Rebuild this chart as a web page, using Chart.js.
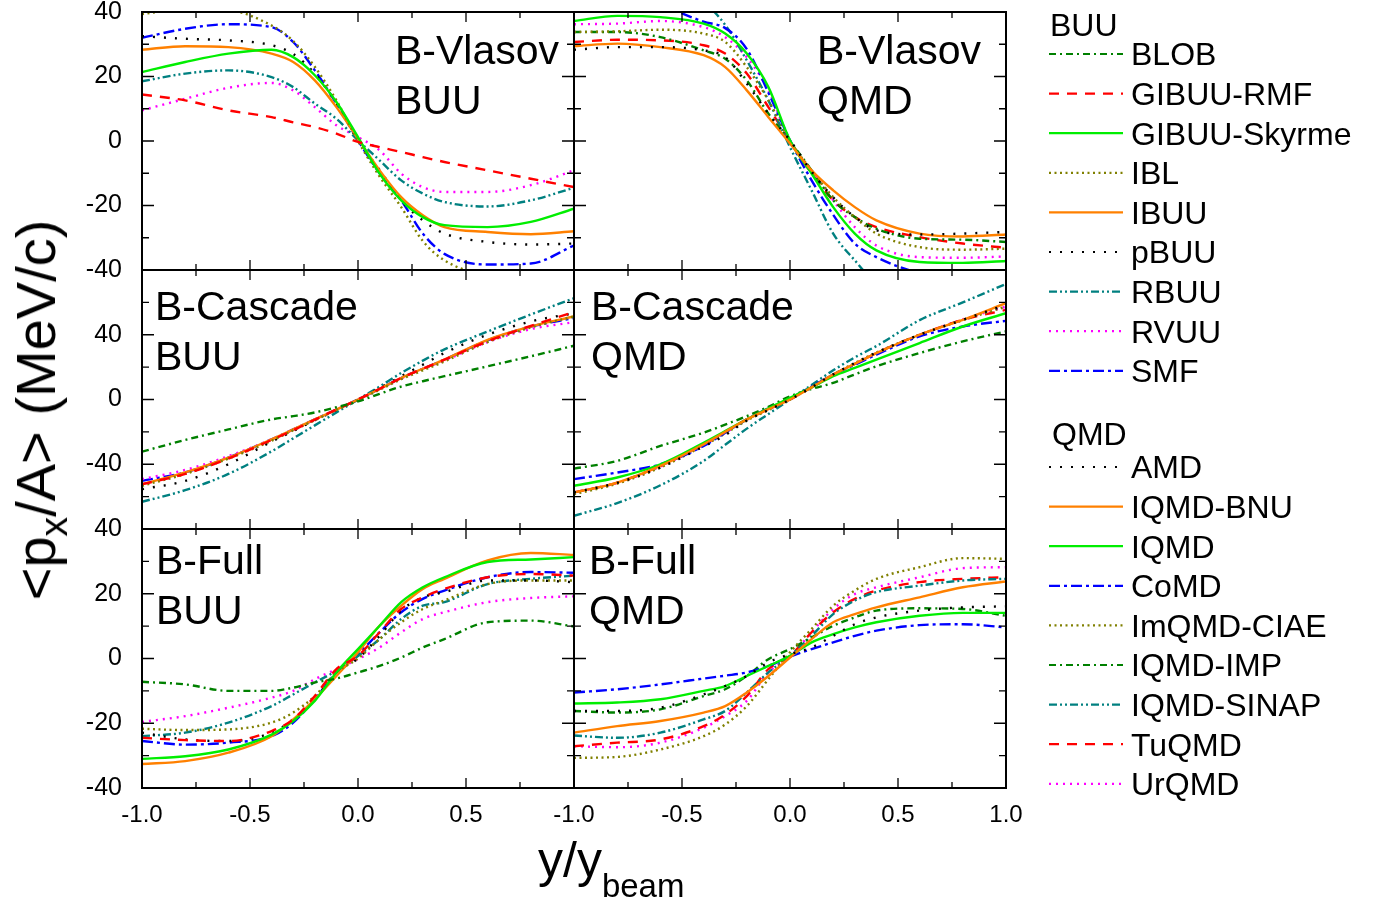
<!DOCTYPE html>
<html>
<head>
<meta charset="utf-8">
<title>&lt;px/A&gt; vs y/ybeam</title>
<script src="https://cdn.jsdelivr.net/npm/chart.js@4.4.1/dist/chart.umd.min.js"></script>
<style>
  body { margin: 0; background: #fff; font-family: "Liberation Sans", Arial, sans-serif; }
  #page { position: relative; width: 1385px; height: 903px; overflow: hidden; }
  #page canvas { position: absolute; }
  .txt { position: absolute; white-space: nowrap; color: #000; line-height: 1; }
  .panel-label { font-size: 41px; line-height: 50px; }
  .legend-text { font-size: 32px; }
</style>
</head>
<body>
<div id="page"></div>
<script>
// x grid (y/ybeam) shared by every curve
const xs = [-1, -0.8, -0.6, -0.4, -0.3, -0.2, -0.1, 0, 0.1, 0.2, 0.3, 0.4, 0.6, 0.8, 1];

const buuModels = ['BLOB', 'GIBUU-RMF', 'GIBUU-Skyrme', 'IBL', 'IBUU', 'pBUU', 'RBUU', 'RVUU', 'SMF'];
const qmdModels = ['AMD', 'IQMD-BNU', 'IQMD', 'CoMD', 'ImQMD-CIAE', 'IQMD-IMP', 'IQMD-SINAP', 'TuQMD', 'UrQMD'];

// <px/A> values, one row per model (same order as the model lists), null = not shown
const vlasovBUU = [
  null,                                                                                                   // BLOB
  [14.4, 12.6, 9.5, 7.4, 5.8, 4.3, 2.3, -0.3, -1.9, -3.4, -5, -6.5, -9.1, -11.7, -14.3],                  // GIBUU-RMF
  [21.4, 24.5, 27.1, 28.3, 26, 20.4, 12.1, 1.2, -10.1, -18.4, -23.6, -26.1, -26.7, -25.1, -21],           // GIBUU-Skyrme
  [39.4, 40.8, 40.5, 35.8, 31, 23, 12.6, 0, -11, -20.5, -31, -37, -41.5, -42, -41],                       // IBL
  [28.3, 29.4, 29.1, 27.1, 24.5, 18.8, 10.5, 0.7, -9.1, -17.4, -23, -26.7, -28.2, -28.9, -28],            // IBUU
  [32.5, 31.7, 31.2, 29.7, 27, 20.9, 11.6, 0.2, -9, -18.4, -24.6, -28.7, -31.3, -32.1, -31.8],            // pBUU
  [18.5, 20.9, 21.9, 19.8, 16.7, 11.6, 6.9, 0.2, -6, -12.2, -16.3, -18.9, -20.3, -18.4, -14.5],           // RBUU
  [9.5, 13.1, 16.5, 18, 15.7, 10.5, 4.9, 1.2, -2.9, -10.1, -14.3, -15.8, -15.8, -13.7, -9.1],             // RVUU
  [32, 34.8, 36.2, 35.3, 30.7, 21.9, 11.6, 0.2, -10, -18.4, -28.7, -35, -38.3, -38, -32.4]                // SMF
];

const vlasovQMD = [
  [28.3, 29.1, 29.1, 28.1, 26, 17.8, 8.5, 0.2, -9.5, -17.5, -23.6, -27.7, -29, -28.7, -28.2],             // AMD
  [29.4, 30.2, 29.1, 26.6, 22.9, 15.7, 7.4, -0.8, -9.1, -15.3, -20.5, -24.6, -28.7, -29.6, -29],          // IQMD-BNU
  [37.2, 38.8, 38.4, 36.4, 33.3, 27.1, 16.7, 0.2, -10.1, -20.5, -28.7, -33.9, -37.5, -37.8, -37.2],       // IQMD
  [46, 45, 42, 37, 35, 28.5, 15, 0.2, -12.2, -22.9, -31.8, -36, -41, -43, -43],                           // CoMD
  [33.8, 34, 34.5, 33.3, 30.7, 22.9, 12.6, 0, -9.1, -17.4, -23.6, -28.7, -32.9, -33.7, -33.4],            // ImQMD-CIAE
  [33.8, 33.8, 32.2, 28.1, 25.5, 18.8, 8.5, 0, -9.1, -18.4, -23.6, -27.2, -30.3, -30.6, -31.3],           // IQMD-IMP
  [52, 51, 48, 43, 36, 25, 12.6, -1.9, -15.3, -28.7, -37, -44, -47, -47, -47],                            // IQMD-SINAP
  [30.7, 31.4, 31.2, 29.7, 27.1, 20.9, 10.5, 0, -10.1, -18.4, -23.6, -26.7, -29.8, -31.8, -33.1],         // TuQMD
  [36.2, 36.4, 37.2, 35.3, 32.2, 26, 15.7, 0, -9.1, -18.4, -26.7, -32.4, -36, -36.2, -35.8]               // UrQMD
];

const cascadeBUU = [
  [-32.2, -25, -18.5, -12.3, -10.3, -8, -4.8, -1.2, 3.5, 8, 11.3, 14.4, 20.5, 26.7, 33.2],                // BLOB
  [-52.3, -46, -36.5, -25, -19, -12.5, -6.2, 0, 6.6, 13.3, 19, 24.6, 36, 45.5, 54],                       // GIBUU-RMF
  null,                                                                                                   // GIBUU-Skyrme
  [-53.3, -46, -36.5, -25.5, -19, -12.8, -6.5, -0.5, 6, 12.5, 18, 23.5, 35.5, 44.5, 51.3],                // IBL
  [-52.3, -45, -35.9, -24.6, -18.5, -12.3, -6.2, 0, 6.6, 13.3, 19, 24.6, 36.9, 45.1, 51.3],               // IBUU
  [-55.4, -50.3, -40, -26, -19.5, -12.8, -6.5, 0, 7, 14.4, 21.5, 28.7, 40, 48.2, 53.3],                   // pBUU
  [-63.2, -56, -46, -32, -24, -16, -8, 0, 8, 16.4, 24, 31, 42, 52.5, 62.6],                               // RBUU
  [-49.2, -43.5, -35, -24.6, -18.5, -12.3, -6.2, 0, 6.5, 13, 19, 24, 35.5, 43.5, 47.8],                   // RVUU
  [-50.3, -45, -35.9, -24.6, -18.5, -12.3, -6.2, 0, 6.6, 13.3, 19, 24.6, 36.5, 45, 50.3]                  // SMF
];

const cascadeQMD = [
  [-57.4, -51.5, -42, -29, -22, -13, -6.5, 0, 7.5, 15.5, 22.5, 29, 40, 49.2, 58.5],                       // AMD
  [-57.4, -51.3, -41, -27.7, -20, -12.3, -6, 0, 7.5, 15.4, 22, 28.7, 40, 49.2, 59.5],                     // IQMD-BNU
  [-53.3, -48.2, -40, -26.7, -19.5, -12.3, -5.5, 1, 7.5, 14.4, 19.5, 24.6, 34.9, 45.1, 53.3],             // IQMD
  [-49.2, -45.1, -40, -28.7, -20.5, -12.3, -5.5, 0.5, 8, 15.4, 21.5, 27.7, 39, 45.1, 48.6],               // CoMD
  [-58.5, -52, -42, -28.5, -21, -13, -6.5, 0, 7.5, 15.5, 22.5, 29, 40, 49, 57.4],                         // ImQMD-CIAE
  [-42.7, -37.9, -28.7, -20.5, -15.5, -10.3, -4.5, 2, 6.5, 10.3, 15.5, 20.5, 28.7, 35.9, 42.1],           // IQMD-IMP
  [-71.8, -64, -53, -38, -28, -18, -9, 0, 9, 18, 26, 33, 49, 60, 71.4],                                   // IQMD-SINAP
  [-57.4, -51.3, -41, -27.7, -20, -12.3, -6, 0, 7.5, 15.4, 22, 28.7, 40, 49.2, 55.4],                     // TuQMD
  [-57.4, -51.5, -41.5, -28, -20.5, -12.5, -6, 0, 7.5, 15.4, 22, 28.7, 40, 49.5, 57.4]                    // UrQMD
];

const fullBUU = [
  [-7.2, -8, -10, -10, -9, -7.4, -6.2, -4.3, -2.3, 0.3, 3.4, 6, 11.2, 11.7, 9.9],                         // BLOB
  [-24.5, -25.2, -25.5, -22.4, -18.8, -11.6, -3.3, 0.8, 8.1, 15.3, 18.9, 21.5, 25.1, 26.1, 25.6],         // GIBUU-RMF
  [-31, -30.2, -28.1, -23.5, -19.3, -13.1, -4.3, 2.9, 10.1, 17.4, 22, 25.1, 29.8, 30.6, 31.3],            // GIBUU-Skyrme
  [-21.7, -22.1, -21.9, -19.8, -16.7, -11.6, -4.3, 0, 6, 11.2, 15.3, 17.9, 23, 24.1, 24.1],               // IBL
  [-32.6, -31.7, -29.1, -24, -18.8, -12.6, -5.4, 1.9, 10.1, 16.3, 21.5, 24.6, 30.3, 32.6, 32],            // IBUU
  [-22.9, -25, -25.5, -22.9, -18.8, -12.6, -4.3, 0, 7, 14.8, 18.9, 20.5, 24.1, 24.1, 23.6],               // pBUU
  [-24, -22.9, -19.8, -14.7, -11.1, -7.4, -3.8, 0.8, 6, 12.2, 16.3, 17.4, 23, 24.6, 25.6],                // RBUU
  [-19.6, -17.8, -15.2, -12.1, -10, -6.4, -3.3, -0.2, 3.4, 8.1, 12.2, 14.3, 17.4, 18.7, 19.2],            // RVUU
  [-25.5, -26.6, -26, -24, -19.8, -12.6, -4.3, 1.3, 8.1, 14.3, 18.4, 21, 25.1, 26.7, 26.5]                // SMF
];

const fullQMD = [
  [-16.2, -16.2, -15.2, -11.1, -8.5, -5.4, -1.2, 1.3, 3.4, 7, 10.6, 12.7, 14.8, 15.8, 16.1],              // AMD
  [-22.9, -20.9, -19.3, -16.7, -14.7, -10.5, -5.4, 0.3, 6, 11.2, 13.7, 15.8, 18.9, 22, 23.8],             // IQMD-BNU
  [-13.9, -13.6, -12.6, -10, -8.5, -5.4, -2.3, 0.8, 5, 7.5, 9.6, 11.2, 13.2, 14.1, 14.1],                 // IQMD
  [-10.5, -9.5, -8, -6.2, -5.3, -4.3, -2.3, 0.6, 2.9, 5, 7, 8.6, 10.3, 10.6, 9.6],                        // CoMD
  [-30.7, -30.4, -28.1, -24, -20.4, -14.7, -6.4, 1.9, 9.1, 16.3, 21, 24.6, 28.2, 31, 30.8],               // ImQMD-CIAE
  [-16.2, -16.7, -15.7, -11.6, -9.5, -5.4, -0.2, 2.9, 6.5, 10.1, 12.7, 14.8, 15.5, 15.3, 13.2],           // IQMD-IMP
  [-23.8, -24.5, -22.9, -18.8, -16.2, -10.5, -4.3, 0.8, 7, 13.7, 17.9, 20.5, 22.5, 24.1, 24.6],           // IQMD-SINAP
  [-27.1, -26, -25, -20.9, -17.3, -11.6, -3.3, 0.8, 8.1, 14.3, 18.4, 21, 23.6, 24.6, 25.1],               // TuQMD
  [-27.1, -27.4, -26, -21.4, -17.8, -13.1, -4.3, 0.5, 8.1, 15.3, 19.9, 22, 25.1, 27.9, 28.2]              // UrQMD
];

// line look for each model
const modelStyle = {
  'BLOB':         { color: '#008000', dash: [7, 4, 2, 4] },
  'GIBUU-RMF':    { color: '#ff0000', dash: [10, 8] },
  'GIBUU-Skyrme': { color: '#00ee00', dash: [] },
  'IBL':          { color: '#808000', dash: [2, 3.5] },
  'IBUU':         { color: '#ff8000', dash: [] },
  'pBUU':         { color: '#000000', dash: [2, 9] },
  'RBUU':         { color: '#008080', dash: [8, 3, 2, 3, 2, 3] },
  'RVUU':         { color: '#ff00ff', dash: [2, 5] },
  'SMF':          { color: '#0000ff', dash: [11, 4, 3, 4] },
  'AMD':          { color: '#000000', dash: [2, 9] },
  'IQMD-BNU':     { color: '#ff8000', dash: [] },
  'IQMD':         { color: '#00ee00', dash: [] },
  'CoMD':         { color: '#0000ff', dash: [11, 4, 3, 4] },
  'ImQMD-CIAE':   { color: '#808000', dash: [2, 3.5] },
  'IQMD-IMP':     { color: '#008000', dash: [7, 4, 2, 4] },
  'IQMD-SINAP':   { color: '#008080', dash: [8, 3, 2, 3, 2, 3] },
  'TuQMD':        { color: '#ff0000', dash: [10, 8] },
  'UrQMD':        { color: '#ff00ff', dash: [2, 5] }
};
const lineWidth = 2.4;

// page geometry of the plot boxes
const colLeft = [142, 574];
const rowTop = [12, 270, 529];
const rowBottom = [270, 529, 788];
const plotW = 432;
const padL = 70, padT = 32, padR = 42, padB = 45;

const rowAxis = [
  { min: -40, max: 40, step: 10, major: 20, hide: [] },
  { min: -80, max: 80, step: 20, major: 40, hide: [80, -80] },
  { min: -40, max: 40, step: 10, major: 20, hide: [] }
];

const panels = [
  { values: vlasovBUU,  models: buuModels, row: 0, col: 0, label: ['B-Vlasov', 'BUU'],  labelPos: [395, 24.5] },
  { values: vlasovQMD,  models: qmdModels, row: 0, col: 1, label: ['B-Vlasov', 'QMD'],  labelPos: [817, 24.5] },
  { values: cascadeBUU, models: buuModels, row: 1, col: 0, label: ['B-Cascade', 'BUU'], labelPos: [155, 280.5] },
  { values: cascadeQMD, models: qmdModels, row: 1, col: 1, label: ['B-Cascade', 'QMD'], labelPos: [591, 280.5] },
  { values: fullBUU,    models: buuModels, row: 2, col: 0, label: ['B-Full', 'BUU'],    labelPos: [156, 534.5] },
  { values: fullQMD,    models: qmdModels, row: 2, col: 1, label: ['B-Full', 'QMD'],    labelPos: [589, 534.5] }
];

const page = document.getElementById('page');
const fontFamily = '"Liberation Sans", Arial, sans-serif';

function isMultiple(v, m) {
  const r = v / m;
  return Math.abs(r - Math.round(r)) < 1e-6;
}

// closed frame plus inward tick marks on all four sides
const frameTicks = {
  id: 'frameTicks',
  afterDatasetsDraw(chart, args, opts) {
    const { ctx, chartArea: a } = chart;
    const x = chart.scales.x, y = chart.scales.y;
    ctx.save();
    ctx.strokeStyle = '#000';
    ctx.lineWidth = 1.3;
    ctx.beginPath();
    x.ticks.forEach(t => {
      const px = x.getPixelForValue(t.value);
      const len = isMultiple(t.value, 0.5) ? 10 : 6;
      ctx.moveTo(px, a.bottom); ctx.lineTo(px, a.bottom - len);
      ctx.moveTo(px, a.top); ctx.lineTo(px, a.top + len);
    });
    y.ticks.forEach(t => {
      const py = y.getPixelForValue(t.value);
      const len = isMultiple(t.value, opts.yMajor) ? 12 : 7;
      ctx.moveTo(a.left, py); ctx.lineTo(a.left + len, py);
      ctx.moveTo(a.right, py); ctx.lineTo(a.right - len, py);
    });
    ctx.stroke();
    ctx.lineWidth = 2;
    ctx.strokeRect(a.left, a.top, a.right - a.left, a.bottom - a.top);
    ctx.restore();
  }
};

function makePanel(p) {
  const ax = rowAxis[p.row];
  const h = rowBottom[p.row] - rowTop[p.row];
  const canvas = document.createElement('canvas');
  canvas.width = padL + plotW + padR;
  canvas.height = padT + h + padB;
  canvas.style.left = (colLeft[p.col] - padL) + 'px';
  canvas.style.top = (rowTop[p.row] - padT) + 'px';
  page.appendChild(canvas);

  const showY = p.col === 0;
  const showX = p.row === 2;

  const datasets = [];
  p.models.forEach((name, i) => {
    const vals = p.values[i];
    if (!vals) return;
    const st = modelStyle[name];
    datasets.push({
      label: name,
      data: xs.map((x, k) => ({ x: x, y: vals[k] })),
      borderColor: st.color,
      borderDash: st.dash,
      borderWidth: lineWidth,
      pointRadius: 0,
      fill: false,
      cubicInterpolationMode: 'monotone'
    });
  });

  new Chart(canvas, {
    type: 'line',
    data: { datasets: datasets },
    options: {
      responsive: false,
      animation: false,
      layout: { padding: { top: padT, right: padR, left: 0, bottom: 0 } },
      plugins: {
        legend: { display: false },
        tooltip: { enabled: false },
        frameTicks: { yMajor: ax.major }
      },
      scales: {
        x: {
          type: 'linear', min: -1, max: 1,
          afterFit: s => { s.height = padB; },
          grid: { display: false },
          border: { display: false },
          ticks: {
            display: showX, stepSize: 0.25, autoSkip: false, maxRotation: 0, padding: 5,
            color: '#000', font: { family: fontFamily, size: 24 },
            callback: v => {
              if (!isMultiple(v, 0.5)) return '';
              if (p.col === 0 && v === 1) return '';   // right panel's -1.0 sits here
              return v.toFixed(1);
            }
          }
        },
        y: {
          type: 'linear', min: ax.min, max: ax.max,
          afterFit: s => { s.width = padL; },
          grid: { display: false },
          border: { display: false },
          ticks: {
            display: showY, stepSize: ax.step, autoSkip: false, padding: 12,
            color: '#000', font: { family: fontFamily, size: 25 },
            callback: v => (isMultiple(v, ax.major) && ax.hide.indexOf(v) < 0) ? String(v) : ''
          }
        }
      }
    },
    plugins: [frameTicks]
  });

  const lab = document.createElement('div');
  lab.className = 'txt panel-label';
  lab.style.left = p.labelPos[0] + 'px';
  lab.style.top = p.labelPos[1] + 'px';
  lab.innerHTML = p.label[0] + '<br>' + p.label[1];
  page.appendChild(lab);
}

panels.forEach(makePanel);

// axis titles
const yTitle = document.createElement('div');
yTitle.className = 'txt';
yTitle.style.cssText = 'left:36px;top:410px;font-size:56px;height:56px;transform:translate(-50%,-50%) rotate(-90deg);';
yTitle.innerHTML = '&lt;p<sub style="font-size:0.7em">x</sub>/A&gt; (MeV/c)';
page.appendChild(yTitle);

const xTitle = document.createElement('div');
xTitle.className = 'txt';
xTitle.style.cssText = 'left:538px;top:835px;font-size:50px;';
xTitle.innerHTML = 'y/y<span style="font-size:33px;vertical-align:-20px">beam</span>';
page.appendChild(xTitle);

// legend: two groups with a header each
const legendGroups = [
  { title: 'BUU', titleTop: 9, titleLeft: 1050, firstY: 54, models: buuModels },
  { title: 'QMD', titleTop: 418, titleLeft: 1052, firstY: 467, models: qmdModels }
];
const rowGap = 39.6;
const svgNS = 'http://www.w3.org/2000/svg';
const svg = document.createElementNS(svgNS, 'svg');
svg.setAttribute('width', 1385);
svg.setAttribute('height', 903);
svg.style.cssText = 'position:absolute;left:0;top:0;';
page.appendChild(svg);

legendGroups.forEach(g => {
  const head = document.createElement('div');
  head.className = 'txt legend-text';
  head.style.left = g.titleLeft + 'px';
  head.style.top = g.titleTop + 'px';
  head.textContent = g.title;
  page.appendChild(head);

  g.models.forEach((name, i) => {
    const cy = g.firstY + i * rowGap;
    const st = modelStyle[name];
    const line = document.createElementNS(svgNS, 'line');
    line.setAttribute('x1', 1049);
    line.setAttribute('x2', 1123);
    line.setAttribute('y1', cy);
    line.setAttribute('y2', cy);
    line.setAttribute('stroke', st.color);
    line.setAttribute('stroke-width', 2.2);
    if (st.dash.length) line.setAttribute('stroke-dasharray', st.dash.join(' '));
    svg.appendChild(line);

    const t = document.createElement('div');
    t.className = 'txt legend-text';
    t.style.left = '1131px';
    t.style.top = (cy - 15.6) + 'px';
    t.textContent = name;
    page.appendChild(t);
  });
});
</script>
</body>
</html>
